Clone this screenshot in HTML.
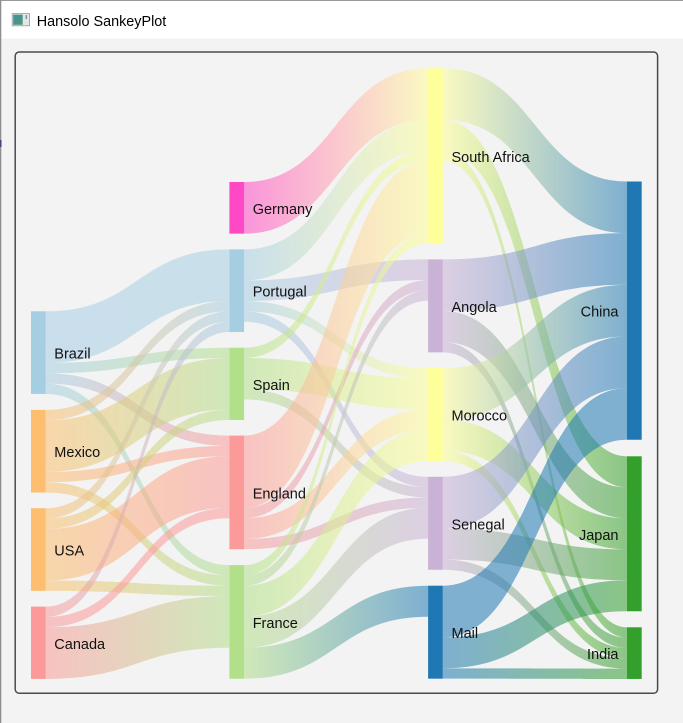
<!DOCTYPE html>
<html><head><meta charset="utf-8">
<style>
html,body{margin:0;padding:0;width:683px;height:723px;overflow:hidden;background:#f3f3f3;}
svg{position:absolute;left:0;top:0;font-family:"Liberation Sans",sans-serif;}
</style></head><body>
<svg id="s" width="683" height="723" viewBox="0 0 683 723" xmlns="http://www.w3.org/2000/svg">
<defs>
<linearGradient id="ic" x1="0" y1="0" x2="1" y2="1"><stop offset="0" stop-color="#3f8fb0"/><stop offset="1" stop-color="#4f9a6a"/></linearGradient>
</defs>
<rect x="0" y="0" width="683" height="723" fill="#f3f3f3"/>
<rect x="0" y="0" width="683" height="38.5" fill="#ffffff"/>
<rect x="0" y="0" width="683" height="1" fill="#999999"/>
<rect x="0" y="0" width="1.3" height="723" fill="#8f8f8f"/>
<rect x="0" y="140" width="1.5" height="7" fill="#3a4a7a"/>
<!-- icon -->
<rect x="12.2" y="13.6" width="17.4" height="12.2" fill="#e6e6e6" stroke="#9a9a9a" stroke-width="0.8"/>
<rect x="13.2" y="14.6" width="9.5" height="10.2" fill="url(#ic)"/>
<rect x="25.5" y="15" width="1.6" height="4" fill="#7a9ab0"/>
<text x="36.7" y="26" font-size="14.4" fill="#000">Hansolo SankeyPlot</text>
<rect x="15.2" y="52" width="642.4" height="641.3" rx="4" ry="4" fill="#f3f3f3" stroke="#4a4a4a" stroke-width="1.5"/>
<g id="links"></g>
<g id="nodes">
<rect x="31" y="311.3" width="14.7" height="82.64" fill="#a6cee3"/>
<rect x="31" y="409.9" width="14.7" height="82.64" fill="#fdbf6f"/>
<rect x="31" y="508.2" width="14.7" height="82.64" fill="#fdbf6f"/>
<rect x="31" y="606.6" width="14.7" height="72.31" fill="#fb9a99"/>
<rect x="229.4" y="182" width="14.7" height="51.65" fill="#ff48c6"/>
<rect x="229.4" y="249.4" width="14.7" height="82.64" fill="#a6cee3"/>
<rect x="229.4" y="347.7" width="14.7" height="72.31" fill="#b2df8a"/>
<rect x="229.4" y="435.6" width="14.7" height="113.63" fill="#fb9a99"/>
<rect x="229.4" y="565.1" width="14.7" height="113.63" fill="#b2df8a"/>
<rect x="428.1" y="68.2" width="14.7" height="175.61" fill="#ffff99"/>
<rect x="428.1" y="259.4" width="14.7" height="92.97" fill="#cab2d6"/>
<rect x="428.1" y="368.1" width="14.7" height="92.97" fill="#ffff99"/>
<rect x="428.1" y="476.8" width="14.7" height="92.97" fill="#cab2d6"/>
<rect x="428.1" y="585.7" width="14.7" height="92.97" fill="#1f78b4"/>
<rect x="627" y="181.5" width="14.7" height="258.25" fill="#1f78b4"/>
<rect x="627" y="456.3" width="14.7" height="154.95" fill="#33a02c"/>
<rect x="627" y="627.3" width="14.7" height="51.65" fill="#33a02c"/>
</g>
<g font-size="14.5" fill="#111">
<text x="54.3" y="358.6">Brazil</text>
<text x="54.3" y="457.2">Mexico</text>
<text x="54.3" y="555.5">USA</text>
<text x="54.3" y="648.8">Canada</text>
<text x="252.7" y="213.8">Germany</text>
<text x="252.7" y="296.7">Portugal</text>
<text x="252.7" y="389.9">Spain</text>
<text x="252.7" y="498.4">England</text>
<text x="252.7" y="627.9">France</text>
<text x="451.5" y="162">South Africa</text>
<text x="451.5" y="311.9">Angola</text>
<text x="451.5" y="420.6">Morocco</text>
<text x="451.5" y="529.3">Senegal</text>
<text x="451.5" y="638.2">Mail</text>
<text x="618.5" y="316.6" text-anchor="end">China</text>
<text x="618.5" y="539.8" text-anchor="end">Japan</text>
<text x="618.5" y="659.1" text-anchor="end">India</text>
</g>
</svg>
<script>
(function(){
var u=10.33,W=14.7,OP=0.55;
var C={lb:'#a6cee3',or:'#fdbf6f',lr:'#fb9a99',pk:'#ff48c6',lg:'#b2df8a',ye:'#ffff99',pu:'#cab2d6',bl:'#1f78b4',gr:'#33a02c'};
var N={
Brazil:[31,311.3,C.lb],Mexico:[31,409.9,C.or],USA:[31,508.2,C.or],Canada:[31,606.6,C.lr],
Germany:[229.4,182,C.pk],Portugal:[229.4,249.4,C.lb],Spain:[229.4,347.7,C.lg],England:[229.4,435.6,C.lr],France:[229.4,565.1,C.lg],
SA:[428.1,68.2,C.ye],Angola:[428.1,259.4,C.pu],Morocco:[428.1,368.1,C.ye],Senegal:[428.1,476.8,C.pu],Mali:[428.1,585.7,C.bl],
China:[627,181.5,C.bl],Japan:[627,456.3,C.gr],India:[627,627.3,C.gr]};
var L=[
['Brazil','Portugal',5],['Brazil','Spain',1],['Brazil','England',1],['Brazil','France',1],
['Mexico','Portugal',1],['Mexico','Spain',5],['Mexico','England',1],['Mexico','France',1],
['USA','Portugal',1],['USA','Spain',1],['USA','England',5],['USA','France',1],
['Canada','Portugal',1],['Canada','England',1],['Canada','France',5],
['Germany','SA',5],
['Portugal','SA',3],['Portugal','Angola',2],['Portugal','Morocco',1],['Portugal','Senegal',1],
['Spain','SA',1],['Spain','Morocco',3],['Spain','Senegal',1],
['England','SA',7],['England','Angola',1],['England','Morocco',2],['England','Senegal',1],
['France','SA',1],['France','Angola',1],['France','Morocco',3],['France','Senegal',3],['France','Mali',3]
];
['SA','Angola','Morocco','Senegal','Mali'].forEach(function(s){
 L.push([s,'China',5]);L.push([s,'Japan',3]);L.push([s,'India',1]);
});
var outO={},inO={};
var NS='http://www.w3.org/2000/svg';
var svg=document.getElementById('s');
var defs=svg.querySelector('defs');
var g=document.getElementById('links');
L.forEach(function(l,i){
 var s=N[l[0]],t=N[l[1]],h=l[2]*u;
 var so=outO[l[0]]||0,to=inO[l[1]]||0;
 outO[l[0]]=so+h;inO[l[1]]=to+h;
 var x0=s[0]+W,x1=t[0],y0=s[1]+so,y1=t[1]+to,xm=(x0+x1)/2;
 var gr=document.createElementNS(NS,'linearGradient');
 gr.setAttribute('id','g'+i);gr.setAttribute('gradientUnits','userSpaceOnUse');
 gr.setAttribute('x1',x0);gr.setAttribute('x2',x1);gr.setAttribute('y1',0);gr.setAttribute('y2',0);
 var a=document.createElementNS(NS,'stop');a.setAttribute('offset','0');a.setAttribute('stop-color',s[2]);
 var b=document.createElementNS(NS,'stop');b.setAttribute('offset','1');b.setAttribute('stop-color',t[2]);
 gr.appendChild(a);gr.appendChild(b);defs.appendChild(gr);
 var p=document.createElementNS(NS,'path');
 var d='M'+x0+','+y0+' C'+xm+','+y0+' '+xm+','+y1+' '+x1+','+y1+
   ' L'+x1+','+(y1+h)+' C'+xm+','+(y1+h)+' '+xm+','+(y0+h)+' '+x0+','+(y0+h)+' Z';
 p.setAttribute('d',d);p.setAttribute('fill','url(#g'+i+')');p.setAttribute('fill-opacity',OP);
 g.appendChild(p);
});
})();
</script>
</body></html>
